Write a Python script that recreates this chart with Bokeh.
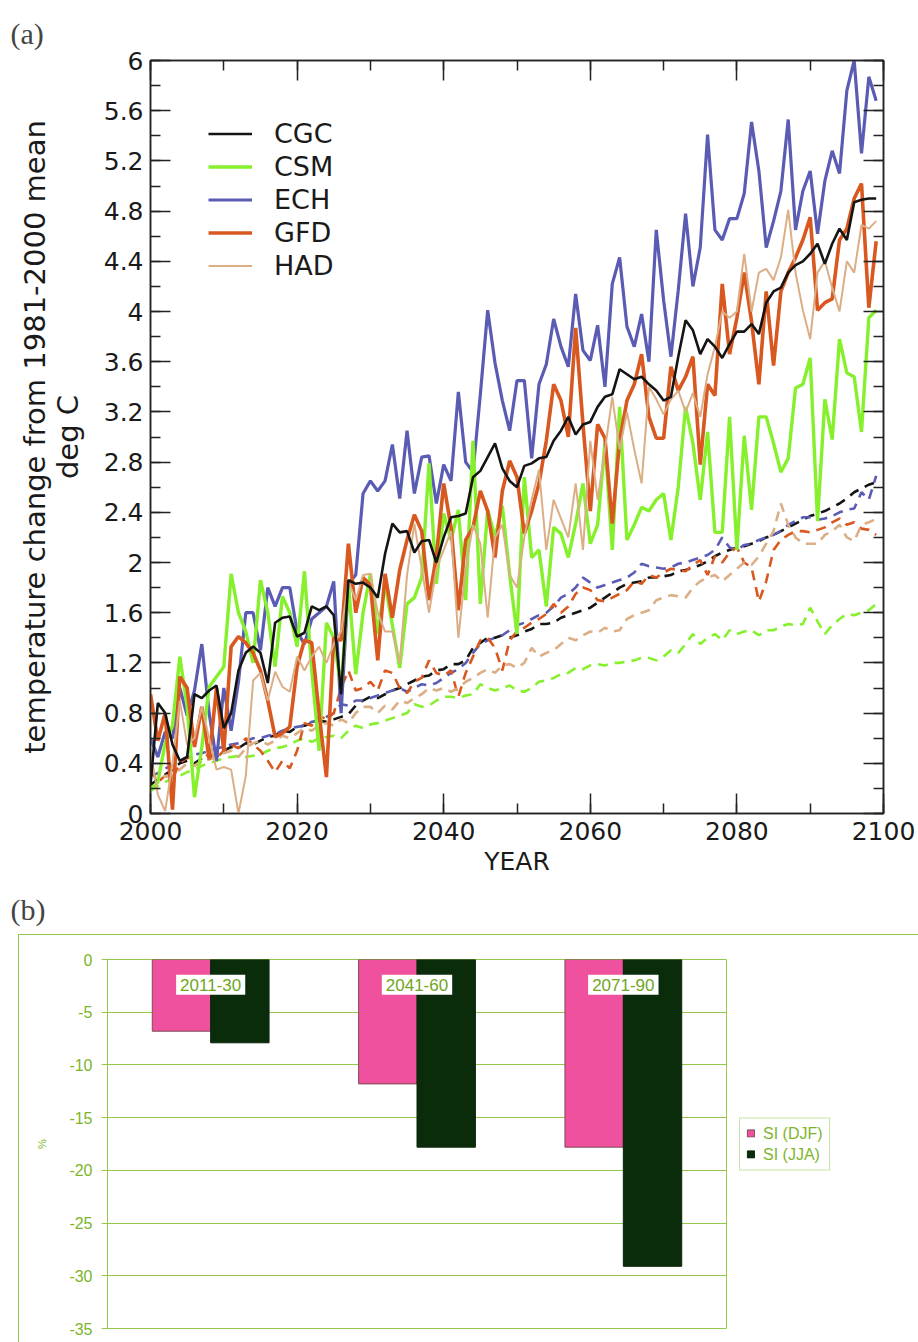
from bokeh.plotting import figure
from bokeh.models import (Range1d, LinearAxis, FixedTicker, CustomJSTickFormatter, Legend,
                          LegendItem, ColumnDataSource, FactorRange)
from bokeh.layouts import column
from bokeh.transform import dodge
from bokeh.core.properties import value
from bokeh.embed import file_html
from bokeh.resources import INLINE

# ---------------- data: panel (a) ----------------
years = list(range(2000, 2100))

cgc = [0.23, 0.88, 0.80, 0.55, 0.42, 0.45, 0.95, 0.92, 0.98, 1.02,
       0.68, 0.80, 1.14, 1.28, 1.33, 1.28, 1.04, 1.52, 1.56, 1.57,
       1.41, 1.44, 1.65, 1.62, 1.65, 1.58, 0.95, 1.86, 1.83, 1.84,
       1.80, 1.72, 2.07, 2.31, 2.24, 2.25, 2.08, 2.17, 2.18, 2.00,
       2.20, 2.36, 2.37, 2.39, 2.68, 2.73, 2.84, 2.95, 2.75, 2.65,
       2.60, 2.77, 2.79, 2.83, 2.84, 2.97, 3.05, 3.16, 3.02, 3.10,
       3.12, 3.24, 3.32, 3.34, 3.54, 3.50, 3.46, 3.48, 3.42, 3.37,
       3.29, 3.32, 3.64, 3.93, 3.85, 3.66, 3.78, 3.72, 3.63, 3.74,
       3.84, 3.84, 3.90, 3.82, 4.07, 4.16, 4.19, 4.31, 4.37, 4.40,
       4.46, 4.54, 4.38, 4.54, 4.66, 4.57, 4.87, 4.89, 4.90, 4.90]

csm = [0.19, 0.25, 0.56, 0.70, 1.25, 0.85, 0.13, 0.53, 1.01, 1.09,
       1.17, 1.91, 1.60, 1.45, 1.20, 1.86, 1.60, 1.17, 1.73, 1.60,
       1.33, 1.93, 1.14, 0.50, 1.52, 1.40, 1.00, 1.83, 1.11, 1.60,
       1.91, 1.43, 1.83, 1.50, 1.16, 1.67, 1.72, 1.88, 2.79, 1.83,
       2.39, 2.18, 2.42, 1.70, 2.97, 1.67, 2.42, 2.20, 2.45, 1.90,
       1.43, 2.68, 2.04, 2.10, 1.65, 2.28, 2.23, 2.04, 2.31, 2.63,
       2.15, 2.30, 2.95, 2.10, 3.24, 2.18, 2.30, 2.44, 2.41, 2.50,
       2.55, 2.18, 2.60, 3.24, 2.95, 2.50, 3.04, 2.24, 2.24, 3.16,
       2.10, 3.01, 2.42, 3.16, 3.16, 2.95, 2.72, 2.83, 3.39, 3.42,
       3.63, 2.33, 3.30, 2.98, 3.78, 3.51, 3.48, 3.04, 3.95, 4.01]

ech = [0.60, 0.45, 0.65, 0.60, 1.00, 0.78, 0.98, 1.35, 0.80, 0.42,
       1.00, 0.66, 1.05, 1.60, 1.60, 1.30, 1.80, 1.65, 1.80, 1.80,
       1.45, 1.35, 1.55, 1.60, 1.65, 1.85, 0.80, 1.83, 1.90, 2.55,
       2.65, 2.57, 2.65, 2.94, 2.51, 3.05, 2.55, 2.84, 2.85, 2.47,
       2.78, 2.65, 3.36, 2.80, 2.72, 3.34, 4.01, 3.59, 3.29, 3.05,
       3.45, 3.45, 2.83, 3.42, 3.58, 3.94, 3.72, 3.56, 4.14, 3.69,
       3.61, 3.89, 3.40, 4.22, 4.43, 3.88, 3.72, 3.98, 3.60, 4.65,
       4.09, 3.64, 4.17, 4.78, 4.20, 4.51, 5.41, 4.65, 4.57, 4.74,
       4.74, 4.94, 5.51, 5.12, 4.51, 4.72, 4.96, 5.53, 4.65, 4.96,
       5.12, 4.62, 5.04, 5.28, 5.10, 5.76, 6.00, 5.26, 5.87, 5.68]

gfd = [0.95, 0.58, 0.80, 0.03, 1.09, 1.00, 0.53, 0.85, 0.43, 1.00,
       0.50, 1.33, 1.41, 1.36, 1.28, 1.14, 0.90, 0.61, 0.64, 0.69,
       1.17, 1.38, 1.36, 0.80, 0.29, 1.40, 1.38, 2.15, 1.60, 1.88,
       1.82, 1.22, 1.91, 1.56, 1.94, 2.18, 2.38, 2.25, 1.70, 2.05,
       2.63, 2.28, 1.62, 2.18, 2.28, 2.57, 2.41, 2.04, 2.57, 2.81,
       2.68, 2.23, 2.41, 2.63, 2.97, 3.42, 3.29, 3.00, 3.87, 3.10,
       2.41, 3.10, 2.99, 2.31, 2.97, 3.29, 3.42, 3.66, 3.16, 2.99,
       2.99, 3.56, 3.37, 3.48, 3.64, 2.78, 3.42, 3.33, 4.22, 3.66,
       3.95, 4.31, 3.92, 3.42, 4.16, 3.57, 4.16, 4.31, 4.43, 4.57,
       4.75, 4.01, 4.07, 4.10, 4.57, 4.66, 4.90, 5.02, 4.03, 4.56]

had = [0.50, 0.15, 0.02, 0.40, 0.90, 0.55, 0.60, 0.85, 0.60, 0.35,
       0.37, 0.35, 0.00, 0.30, 1.06, 1.12, 0.90, 1.13, 1.01, 0.97,
       1.25, 1.14, 1.25, 1.33, 1.20, 1.35, 1.45, 1.85, 1.70, 1.90,
       1.91, 1.60, 1.45, 1.45, 1.20, 1.90, 2.31, 1.95, 1.60, 1.95,
       2.10, 2.25, 1.40, 1.95, 2.30, 2.15, 1.56, 2.20, 2.30, 1.90,
       1.80, 2.20, 2.50, 2.74, 2.10, 2.50, 2.35, 2.20, 2.63, 2.10,
       2.97, 2.50, 2.90, 3.32, 2.90, 3.20, 2.90, 2.63, 3.40, 3.30,
       3.18, 3.30, 3.37, 3.20, 3.35, 3.16, 3.50, 3.72, 4.00, 3.95,
       4.00, 4.46, 4.00, 4.31, 4.34, 4.25, 4.43, 4.81, 4.31, 4.01,
       3.78, 4.31, 4.40, 4.19, 4.00, 4.40, 4.31, 4.69, 4.66, 4.72]

cgc_dash = [0.23, 0.27, 0.31, 0.35, 0.40, 0.42, 0.40, 0.44, 0.45, 0.45,
            0.50, 0.53, 0.52, 0.56, 0.55, 0.58, 0.61, 0.62, 0.66, 0.65,
            0.69, 0.70, 0.72, 0.74, 0.73, 0.75, 0.77, 0.79, 0.86, 0.90,
            0.93, 0.92, 0.95, 0.98, 1.00, 1.03, 1.06, 1.09, 1.10, 1.14,
            1.15, 1.19, 1.19, 1.22, 1.32, 1.36, 1.40, 1.40, 1.42, 1.40,
            1.42, 1.45, 1.47, 1.51, 1.51, 1.52, 1.56, 1.58, 1.60, 1.62,
            1.64, 1.68, 1.72, 1.76, 1.80, 1.83, 1.84, 1.85, 1.88, 1.88,
            1.89, 1.90, 1.93, 1.94, 1.96, 1.98, 2.01, 2.05, 2.08, 2.10,
            2.12, 2.13, 2.15, 2.17, 2.20, 2.22, 2.25, 2.28, 2.31, 2.34,
            2.37, 2.39, 2.41, 2.44, 2.47, 2.51, 2.56, 2.59, 2.62, 2.64]

csm_dash = [0.18, 0.22, 0.25, 0.28, 0.30, 0.33, 0.35, 0.38, 0.40, 0.42,
            0.44, 0.45, 0.46, 0.45, 0.46, 0.47, 0.50, 0.52, 0.53, 0.55,
            0.58, 0.60, 0.57, 0.60, 0.61, 0.62, 0.60, 0.66, 0.70, 0.68,
            0.71, 0.72, 0.74, 0.76, 0.78, 0.80, 0.87, 0.85, 0.86, 0.90,
            0.93, 0.93, 0.92, 0.94, 0.95, 1.03, 1.00, 0.98, 1.00, 1.02,
            0.98, 0.97, 1.00, 1.05, 1.06, 1.08, 1.11, 1.12, 1.16, 1.15,
            1.18, 1.19, 1.18, 1.20, 1.20, 1.21, 1.22, 1.24, 1.24, 1.22,
            1.25, 1.30, 1.28, 1.35, 1.43, 1.35, 1.40, 1.43, 1.38, 1.46,
            1.43, 1.45, 1.46, 1.42, 1.46, 1.46, 1.49, 1.51, 1.50, 1.51,
            1.64, 1.53, 1.43, 1.50, 1.55, 1.59, 1.58, 1.60, 1.62, 1.67]

ech_dash = [0.30, 0.32, 0.36, 0.38, 0.42, 0.45, 0.47, 0.48, 0.50, 0.52,
            0.53, 0.55, 0.56, 0.58, 0.60, 0.60, 0.62, 0.63, 0.66, 0.68,
            0.69, 0.70, 0.73, 0.74, 0.77, 0.80, 0.87, 0.86, 0.90, 0.90,
            0.92, 0.94, 0.96, 0.98, 1.00, 0.97, 1.00, 1.03, 1.02, 1.04,
            1.08, 1.12, 1.15, 1.20, 1.28, 1.35, 1.38, 1.40, 1.42, 1.46,
            1.50, 1.52, 1.55, 1.58, 1.60, 1.65, 1.72, 1.75, 1.80, 1.88,
            1.84, 1.80, 1.82, 1.84, 1.86, 1.88, 1.92, 1.99, 1.97, 1.96,
            1.95, 1.96, 1.99, 2.00, 2.02, 2.04, 2.06, 2.10, 2.20, 2.12,
            2.10, 2.14, 2.15, 2.18, 2.20, 2.22, 2.25, 2.30, 2.33, 2.36,
            2.36, 2.34, 2.35, 2.37, 2.40, 2.42, 2.43, 2.56, 2.50, 2.69]

gfd_dash = [0.35, 0.25, 0.30, 0.28, 0.40, 0.45, 0.38, 0.42, 0.48, 0.44,
            0.50, 0.55, 0.52, 0.60, 0.55, 0.50, 0.42, 0.33, 0.42, 0.36,
            0.50, 0.72, 0.70, 0.78, 0.75, 0.80, 1.00, 1.14, 0.98, 1.00,
            1.05, 0.98, 1.14, 1.12, 1.00, 0.96, 1.05, 1.08, 1.22, 1.12,
            1.10, 1.14, 0.93, 1.12, 1.25, 1.38, 1.40, 1.32, 1.14, 1.38,
            1.45, 1.48, 1.52, 1.55, 1.59, 1.67, 1.60, 1.65, 1.75, 1.80,
            1.78, 1.70, 1.69, 1.72, 1.75, 1.78, 1.85, 1.83, 1.90, 1.88,
            1.92, 1.95, 1.94, 1.93, 1.98, 2.02, 1.90, 2.05, 2.00, 2.08,
            2.12, 2.00, 1.96, 1.69, 1.85, 2.10, 2.18, 2.22, 2.25, 2.25,
            2.24, 2.26, 2.28, 2.32, 2.35, 2.30, 2.32, 2.27, 2.26, 2.22]

had_dash = [0.20, 0.25, 0.30, 0.30, 0.35, 0.40, 0.38, 0.42, 0.43, 0.45,
            0.48, 0.50, 0.45, 0.52, 0.56, 0.58, 0.55, 0.58, 0.62, 0.60,
            0.64, 0.68, 0.66, 0.70, 0.72, 0.70, 0.75, 0.72, 0.80, 0.85,
            0.85, 0.80, 0.86, 0.83, 0.90, 0.88, 0.92, 0.95, 1.00, 0.98,
            1.00, 0.97, 1.00, 1.05, 1.08, 1.12, 1.15, 1.12, 1.18, 1.19,
            1.16, 1.20, 1.32, 1.25, 1.28, 1.30, 1.35, 1.40, 1.38, 1.42,
            1.45, 1.44, 1.48, 1.45, 1.46, 1.55, 1.58, 1.60, 1.62, 1.70,
            1.72, 1.74, 1.73, 1.72, 1.80, 1.85, 1.88, 1.90, 1.85, 1.90,
            1.95, 2.00, 1.98, 2.05, 2.15, 2.25, 2.47, 2.30, 2.20, 2.15,
            2.15, 2.15, 2.22, 2.25, 2.30, 2.20, 2.17, 2.30, 2.32, 2.35]

models = ["CGC", "CSM", "ECH", "GFD", "HAD"]

# ---------------- data: panel (b) ----------------
periods = ["2011-30", "2041-60", "2071-90"]
si_djf = [-6.8, -11.8, -17.8]
si_jja = [-7.9, -17.8, -29.1]

# ---------------- styles ----------------
colors = {"CGC": "#141414", "CSM": "#86f02c", "ECH": "#5a5cb4", "GFD": "#d9581f", "HAD": "#dcae86"}
widths = {"CGC": 2.6, "CSM": 3.4, "ECH": 3.2, "GFD": 3.6, "HAD": 2.0}
FONT = "DejaVu Sans"


def no_align(fig):
    if "frame_align" in fig.properties():
        fig.frame_align = False


solid = {"CGC": cgc, "CSM": csm, "ECH": ech, "GFD": gfd, "HAD": had}
dashed = {"CGC": cgc_dash, "CSM": csm_dash, "ECH": ech_dash, "GFD": gfd_dash, "HAD": had_dash}

p = figure(width=918, height=890, x_range=Range1d(2000, 2100), y_range=Range1d(0, 6),
           output_backend="svg", toolbar_location=None,
           min_border_left=150, min_border_right=35, min_border_top=60, min_border_bottom=77)
no_align(p)
p.grid.visible = False
p.outline_line_color = "#222222"
p.outline_line_width = 1.5
p.background_fill_color = "white"
p.border_fill_color = "white"

p.title.text = "(a)"
p.title.text_font = "Liberation Serif"
p.title.text_font_size = "30px"
p.title.text_font_style = "normal"
p.title.align = "left"
p.title.offset = -140
p.title.standoff = 22

yt = [round(0.4 * i, 1) for i in range(16)]
ymt = [round(0.2 * i, 1) for i in range(31)]
xt = list(range(2000, 2101, 20))
xmt = list(range(2000, 2101, 10))
fmt = CustomJSTickFormatter(code="return Number(tick.toFixed(1)).toString();")


def style_axis(ax, labels=True):
    ax.major_tick_in = 20
    ax.major_tick_out = 0
    ax.minor_tick_in = 10
    ax.minor_tick_out = 0
    ax.major_tick_line_color = "#222222"
    ax.minor_tick_line_color = "#222222"
    ax.major_tick_line_width = 1.5
    ax.minor_tick_line_width = 1.5
    ax.axis_line_color = "#222222"
    ax.axis_line_width = 1.5
    ax.major_label_text_font = FONT
    ax.major_label_text_font_size = "25px"
    ax.major_label_text_color = "#1a1a1a"
    ax.axis_label_text_font = FONT
    ax.axis_label_text_font_style = "normal"
    ax.axis_label_text_color = "#1a1a1a"
    if not labels:
        ax.major_label_text_color = None
        ax.major_label_standoff = 0


p.xaxis.ticker = FixedTicker(ticks=xt, minor_ticks=xmt)
p.yaxis.ticker = FixedTicker(ticks=yt, minor_ticks=ymt)
p.xaxis.formatter = fmt
p.yaxis.formatter = fmt
style_axis(p.xaxis[0])
style_axis(p.yaxis[0])
p.xaxis.axis_label = "YEAR"
p.xaxis.axis_label_text_font_size = "25px"
p.xaxis.major_label_standoff = 8
p.xaxis.axis_label_standoff = 4
p.yaxis.axis_label = "temperature change from 1981-2000 mean\ndeg C"
p.yaxis.axis_label_text_font_size = "29px"
p.yaxis.axis_label_text_line_height = 0.95
p.yaxis.major_label_standoff = 7
p.yaxis.axis_label_standoff = 16

ax_r = LinearAxis(ticker=FixedTicker(ticks=yt, minor_ticks=ymt))
style_axis(ax_r, labels=False)
p.add_layout(ax_r, "right")
ax_t = LinearAxis(ticker=FixedTicker(ticks=xt, minor_ticks=xmt))
style_axis(ax_t, labels=False)
p.add_layout(ax_t, "above")

for m in models:
    p.line(years, dashed[m], line_color=colors[m], line_width=2.6, line_dash="10 7")

order = ["ECH", "CSM", "GFD", "HAD", "CGC"]
rend = {}
for m in order:
    rend[m] = p.line(years, solid[m], line_color=colors[m], line_width=widths[m])

legend = Legend(items=[LegendItem(label=m, renderers=[rend[m]]) for m in models],
                location=(58, 531), glyph_width=44, glyph_height=33, label_height=33,
                label_standoff=22, spacing=0, padding=0, margin=0,
                border_line_color=None, background_fill_alpha=0,
                label_text_font=FONT, label_text_font_size="27px", label_text_color="#1a1a1a")
p.add_layout(legend)

# ---------------- "(b)" label strip ----------------
lab = figure(width=918, height=44, x_range=Range1d(0, 1), y_range=Range1d(0, 1),
             output_backend="svg", toolbar_location=None, min_border=0)
no_align(lab)
lab.axis.visible = False
lab.grid.visible = False
lab.outline_line_color = None
lab.title.text = "(b)"
lab.title.text_font = "Liberation Serif"
lab.title.text_font_size = "30px"
lab.title.text_font_style = "normal"
lab.title.align = "left"
lab.title.offset = 10
lab.title.standoff = 0

# ---------------- panel (b) ----------------
GREEN_TXT = "#7cb52a"
GREEN_LN = "#95c84a"
PINK = "#f0519e"
DARK = "#0b2c0b"

q = figure(frame_width=617, frame_height=367, x_range=FactorRange(*periods, range_padding=0),
           y_range=Range1d(-35, 0), output_backend="svg", toolbar_location=None,
           min_border_left=88, min_border_right=117, min_border_top=24, min_border_bottom=16)
no_align(q)
q.margin = (0, 0, 0, 18)
q.styles = {"border": "1px solid " + GREEN_LN}
q.background_fill_color = "white"
q.border_fill_color = "white"
q.outline_line_color = GREEN_LN
q.outline_line_width = 1
q.xgrid.visible = False
q.ygrid.grid_line_color = GREEN_LN
q.ygrid.grid_line_width = 1
q.ygrid.ticker = FixedTicker(ticks=list(range(-35, 1, 5)))
q.xaxis.visible = False

q.yaxis.ticker = FixedTicker(ticks=list(range(-35, 1, 5)))
q.yaxis.formatter = CustomJSTickFormatter(code="return tick.toString();")
q.yaxis.axis_line_color = GREEN_LN
q.yaxis.major_tick_line_color = GREEN_LN
q.yaxis.major_tick_out = 6
q.yaxis.major_tick_in = 0
q.yaxis.minor_tick_line_color = None
q.yaxis.major_label_text_color = GREEN_TXT
q.yaxis.major_label_text_font = "Liberation Sans"
q.yaxis.major_label_text_font_size = "16px"
q.yaxis.major_label_standoff = 9
q.yaxis.axis_label = "%"
q.yaxis.axis_label_text_color = GREEN_TXT
q.yaxis.axis_label_text_font = "Liberation Sans"
q.yaxis.axis_label_text_font_size = "11px"
q.yaxis.axis_label_text_font_style = "normal"
q.yaxis.axis_label_standoff = 18

src = ColumnDataSource(dict(period=periods, djf=si_djf, jja=si_jja))
bw = 0.283
r1 = q.vbar(x=dodge("period", -bw / 2, range=q.x_range), top="djf", bottom=0, width=bw,
            source=src, fill_color=PINK, line_color="#7a4d55", line_width=1)
r2 = q.vbar(x=dodge("period", bw / 2, range=q.x_range), top="jja", bottom=0, width=bw,
            source=src, fill_color=DARK, line_color="#0a250a", line_width=1)

q.text(x="period", y=-2.4, text="period", source=src, text_align="center",
       text_baseline="middle", text_color="#6fa524", text_font=value("Liberation Sans"),
       text_font_size="17px", background_fill_color="white", padding=4)

leg_b = Legend(items=[LegendItem(label="SI (DJF)", renderers=[r1]),
                      LegendItem(label="SI (JJA)", renderers=[r2])],
               location="center_left", glyph_width=9, glyph_height=9, label_height=17,
               label_standoff=8, spacing=3, padding=6, margin=13,
               border_line_color=GREEN_LN, border_line_width=1, background_fill_color="white",
               label_text_font="Liberation Sans", label_text_font_size="16px",
               label_text_color=GREEN_TXT)
q.add_layout(leg_b, "right")

layout = column(p, lab, q, spacing=0)
open("out.html", "w").write(file_html(layout, INLINE))
